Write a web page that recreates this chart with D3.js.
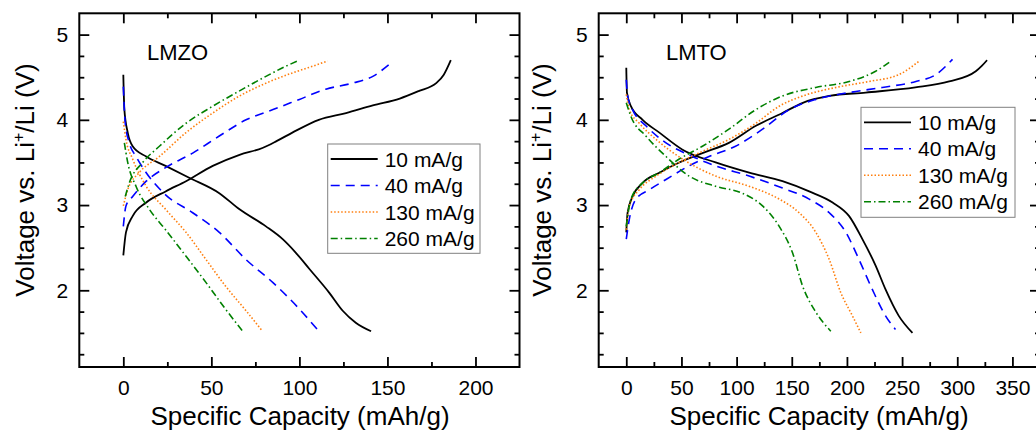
<!DOCTYPE html>
<html>
<head>
<meta charset="utf-8">
<script src="https://cdn.jsdelivr.net/npm/d3@7"></script>
<style>
  body { margin: 0; background: #fff; }
  svg { display: block; font-family: "Liberation Sans", Arial, sans-serif; }
</style>
</head>
<body>
<div id="chart"></div>
<script>
// rates shown in both legends
const rates = ['10 mA/g', '40 mA/g', '130 mA/g', '260 mA/g'];

// LMZO: [capacity mAh/g, voltage V]
const lmzoCharge10 = [[0,2.41],[1.5,2.68],[5.3,2.87],[13,3.03],[24,3.16],[35.6,3.28],[50.8,3.46],[66,3.59],[79,3.67],[87,3.75],[96,3.85],[111,4.0],[126.5,4.08],[141.7,4.17],[157,4.25],[168,4.34],[177.7,4.43],[182,4.53],[186,4.7]];
const lmzoDischarge10 = [[0,4.53],[0.6,4.12],[2.5,3.85],[5.3,3.69],[13,3.57],[24,3.46],[37.5,3.32],[54.5,3.14],[66,2.95],[81,2.75],[90.5,2.6],[98,2.44],[105.7,2.25],[117,1.97],[124.6,1.76],[132,1.62],[140.7,1.52]];
const lmzoCharge40 = [[0,2.75],[1.5,2.99],[5.3,3.1],[13,3.28],[24,3.44],[39.4,3.61],[54.5,3.81],[69.7,4.0],[85,4.12],[100,4.24],[115,4.36],[130,4.43],[141.7,4.51],[151,4.65]];
const lmzoDischarge40 = [[0,4.39],[1.1,3.96],[3.4,3.73],[7.2,3.57],[13,3.38],[24,3.12],[39.4,2.91],[54.5,2.68],[69.7,2.36],[85,2.09],[100,1.78],[111,1.52]];
const lmzoCharge130 = [[0,2.99],[2.5,3.18],[9,3.38],[20.5,3.57],[35.6,3.85],[50.8,4.08],[66,4.28],[81,4.43],[96,4.55],[107.6,4.63],[116,4.69]];
const lmzoDischarge130 = [[0,3.98],[1.5,3.77],[5.3,3.54],[13,3.22],[24,2.95],[35.6,2.68],[47,2.36],[58,2.05],[69.7,1.76],[79,1.52]];
const lmzoCharge260 = [[1.1,3.1],[3.4,3.26],[11,3.5],[20.5,3.69],[35.6,3.96],[50.8,4.16],[66,4.34],[81,4.51],[92.4,4.63],[100,4.7]];
const lmzoDischarge260 = [[0.6,3.73],[2.5,3.5],[7.2,3.22],[14.8,2.95],[24,2.71],[35.6,2.4],[47,2.09],[58,1.78],[67.8,1.52]];

// LMTO: [capacity mAh/g, voltage V]
const lmtoCharge10 = [[0,2.68],[1.2,2.91],[5.7,3.1],[14.8,3.26],[30,3.38],[48,3.5],[69,3.61],[93,3.73],[117.5,3.93],[141.6,4.08],[160,4.2],[184,4.28],[217,4.32],[262,4.38],[292.7,4.45],[316.8,4.57],[322,4.63],[327,4.7]];
const lmtoDischarge10 = [[0,4.61],[0.6,4.32],[4.2,4.16],[14.8,4.0],[30,3.85],[51,3.65],[81,3.5],[111.4,3.38],[141.6,3.28],[165.8,3.16],[187,3.03],[202,2.87],[214,2.6],[226,2.29],[235,2.01],[247,1.7],[259.4,1.5]];
const lmtoCharge40 = [[0,2.6],[2.7,2.83],[8.8,3.07],[20.8,3.18],[36,3.3],[57,3.46],[75,3.57],[99,3.69],[123.5,3.89],[147.7,4.12],[171.8,4.24],[202,4.32],[232,4.38],[262.5,4.45],[280.6,4.53],[295.7,4.71]];
const lmtoDischarge40 = [[0,4.47],[1.2,4.28],[5.7,4.12],[17.8,3.93],[36,3.73],[60,3.57],[81,3.46],[111.4,3.34],[141.6,3.2],[165.8,3.07],[184,2.91],[199,2.68],[211,2.36],[223,2.01],[235,1.7],[244,1.54]];
const lmtoCharge130 = [[0,2.71],[2.7,2.99],[11.8,3.18],[27,3.34],[45,3.48],[69,3.63],[93,3.77],[117.5,3.96],[138.6,4.16],[160,4.28],[190,4.38],[220,4.45],[247,4.53],[265.5,4.69]];
const lmtoDischarge130 = [[0,4.3],[2.7,4.12],[11.8,3.96],[27,3.77],[51,3.54],[81,3.34],[111.4,3.22],[138.6,3.07],[156.7,2.91],[171.8,2.68],[184,2.36],[194.5,1.97],[205,1.7],[212.6,1.5]];
const lmtoCharge260 = [[0,2.75],[4.2,3.07],[14.8,3.26],[30,3.38],[48,3.54],[69,3.69],[93,3.89],[117.5,4.12],[141.6,4.28],[171.8,4.38],[202,4.45],[226,4.57],[240,4.69]];
const lmtoDischarge260 = [[0,4.2],[4.2,4.04],[17.8,3.81],[36,3.57],[57,3.34],[81,3.22],[105,3.14],[123.5,2.99],[138.6,2.75],[150.7,2.44],[159.8,2.05],[172,1.74],[185.4,1.52]];

// tick values
const yMajor = [2, 3, 4, 5];
const yMinor = [1.25, 1.5, 1.75, 2.25, 2.5, 2.75, 3.25, 3.5, 3.75, 4.25, 4.5, 4.75];
const xMajorLmzo = [0, 50, 100, 150, 200];
const xMinorLmzo = [25, 75, 125, 175];
const xMajorLmto = [0, 50, 100, 150, 200, 250, 300, 350];
const xMinorLmto = [25, 75, 125, 175, 225, 275, 325];

const colors = ['#000000', '#0000ff', '#ff7f0e', '#008000'];
const dashes = [null, '9,6', '1.5,2', '7,3,1.5,3'];
const widths = [1.8, 1.6, 1.6, 1.6];

const width = 1036, height = 432;
const svg = d3.select('#chart').append('svg')
  .attr('width', width).attr('height', height);

const line = d3.line().curve(d3.curveMonotoneX);

function drawPanel(cfg) {
  const x = d3.scaleLinear().domain(cfg.xDomain).range([cfg.left, cfg.right]);
  const y = d3.scaleLinear().domain([1.1, 5.25]).range([367, 13.3]);
  const g = svg.append('g');

  // ticks (all four sides, pointing in)
  const addAxis = (axis, tx, ty, labels) => {
    const a = g.append('g').attr('transform', `translate(${tx},${ty})`).call(axis);
    a.select('.domain').remove();
    a.selectAll('.tick line').attr('stroke', '#000').attr('stroke-width', 1.8);
    a.selectAll('text').attr('fill', '#000').style('font-size', '21px');
    if (!labels) a.selectAll('text').remove();
  };
  const B = y.range()[0], T = y.range()[1];
  addAxis(d3.axisBottom(x).tickValues(cfg.xMajor).tickSize(-10).tickPadding(13).tickFormat(d3.format('d')), 0, B, true);
  addAxis(d3.axisBottom(x).tickValues(cfg.xMinor).tickSize(-5), 0, B, false);
  addAxis(d3.axisTop(x).tickValues(cfg.xMajor).tickSize(-10), 0, T, false);
  addAxis(d3.axisTop(x).tickValues(cfg.xMinor).tickSize(-5), 0, T, false);
  addAxis(d3.axisLeft(y).tickValues(yMajor).tickSize(-10).tickPadding(11).tickFormat(d3.format('d')), cfg.left, 0, true);
  addAxis(d3.axisLeft(y).tickValues(yMinor).tickSize(-5), cfg.left, 0, false);
  addAxis(d3.axisRight(y).tickValues(yMajor).tickSize(-10), cfg.right, 0, false);
  addAxis(d3.axisRight(y).tickValues(yMinor).tickSize(-5), cfg.right, 0, false);

  // frame
  g.append('rect')
    .attr('x', cfg.left).attr('y', T)
    .attr('width', cfg.right - cfg.left).attr('height', B - T)
    .attr('fill', 'none').attr('stroke', '#000').attr('stroke-width', 2);

  // curves
  cfg.series.forEach((pair, i) => {
    pair.forEach(pts => {
      g.append('path')
        .attr('d', line.x(d => x(d[0])).y(d => y(d[1]))(pts))
        .attr('fill', 'none')
        .attr('stroke', colors[i])
        .attr('stroke-width', widths[i])
        .attr('stroke-dasharray', dashes[i]);
    });
  });

  // panel label
  g.append('text').attr('x', cfg.labelX).attr('y', 60)
    .style('font-size', '22px').text(cfg.name);

  // axis titles
  g.append('text')
    .attr('x', cfg.xTitleX).attr('y', 425)
    .attr('text-anchor', 'middle').style('font-size', '26px')
    .text('Specific Capacity (mAh/g)');

  const yt = g.append('text')
    .attr('transform', `translate(${cfg.yTitleX},180) rotate(-90)`)
    .attr('text-anchor', 'middle').style('font-size', '26px');
  yt.append('tspan').text('Voltage vs. Li');
  yt.append('tspan').attr('dy', -10).style('font-size', '16px').text('+');
  yt.append('tspan').attr('dy', 10).text('/Li (V)');

  // legend
  const L = cfg.legend;
  g.append('rect')
    .attr('x', L.x).attr('y', L.y).attr('width', L.w).attr('height', L.h)
    .attr('fill', '#fff').attr('stroke', '#808080').attr('stroke-width', 1);
  rates.forEach((r, i) => {
    const cy = L.y + 15 + i * 26.5;
    g.append('line')
      .attr('x1', L.x + 3).attr('x2', L.x + 50).attr('y1', cy).attr('y2', cy)
      .attr('stroke', colors[i]).attr('stroke-width', widths[i])
      .attr('stroke-dasharray', dashes[i]);
    g.append('text').attr('x', L.x + 57).attr('y', cy + 7.5)
      .style('font-size', '21px').text(r);
  });
}

drawPanel({
  name: 'LMZO', labelX: 147,
  xDomain: [-25, 225], left: 79.3, right: 519.5,
  xMajor: xMajorLmzo, xMinor: xMinorLmzo,
  xTitleX: 300, yTitleX: 34,
  legend: { x: 327.7, y: 144, w: 152.3, h: 109.3 },
  series: [[lmzoCharge10, lmzoDischarge10], [lmzoCharge40, lmzoDischarge40],
           [lmzoCharge130, lmzoDischarge130], [lmzoCharge260, lmzoDischarge260]]
});

drawPanel({
  name: 'LMTO', labelX: 666,
  xDomain: [-25, 375], left: 598.7, right: 1040,
  xMajor: xMajorLmto, xMinor: xMinorLmto,
  xTitleX: 819, yTitleX: 551,
  legend: { x: 861, y: 107.3, w: 154, h: 110 },
  series: [[lmtoCharge10, lmtoDischarge10], [lmtoCharge40, lmtoDischarge40],
           [lmtoCharge130, lmtoDischarge130], [lmtoCharge260, lmtoDischarge260]]
});
</script>
</body>
</html>
